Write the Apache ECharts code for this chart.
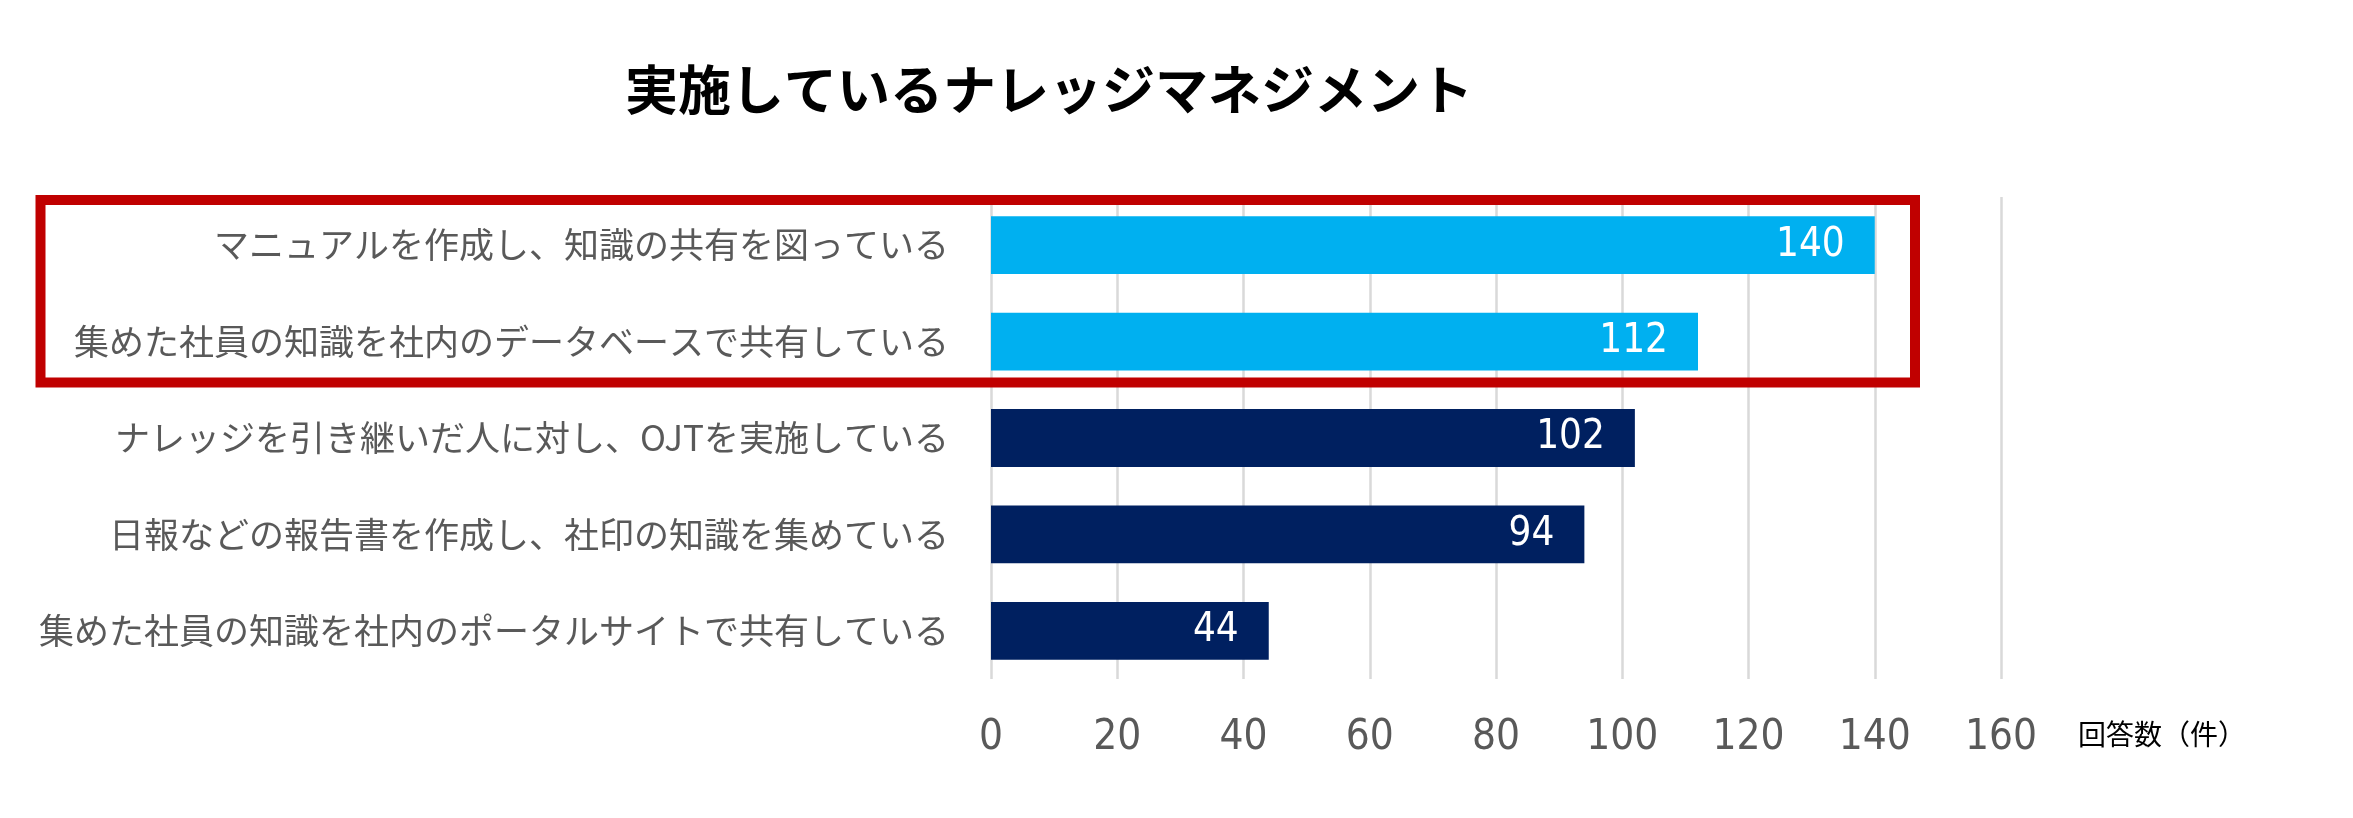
<!DOCTYPE html>
<html>
<head>
<meta charset="utf-8">
<script src="https://cdn.jsdelivr.net/npm/echarts@6/dist/echarts.min.js"></script>
<style>
html,body{margin:0;padding:0;background:#fff;}
#chart{width:2353px;height:818px;}
</style>
</head>
<body>
<div id="chart"></div>
<script>
// ---- data ----
const titleText = '実施しているナレッジマネジメント';
const categories = [
  'マニュアルを作成し、知識の共有を図っている',
  '集めた社員の知識を社内のデータベースで共有している',
  'ナレッジを引き継いだ人に対し、OJTを実施している',
  '日報などの報告書を作成し、社印の知識を集めている',
  '集めた社員の知識を社内のポータルサイトで共有している'
];
const values = [140, 112, 102, 94, 44];
const highlightFlags = [true, true, false, false, false];
const axisName = '回答数（件）';

// ---- styles ----
const LIGHT = '#00B0F0';
const DARK = '#002060';
const CJK = '"Noto Sans CJK JP", "Noto Sans CJK SC", sans-serif';
const NUM = '"DejaVu Sans Condensed", "Noto Sans", sans-serif';

const chart = echarts.init(document.getElementById('chart'), null, {renderer: 'canvas'});

const barData = values.map((v, i) => ({
  value: v,
  itemStyle: {color: highlightFlags[i] ? LIGHT : DARK}
}));

chart.setOption({
  backgroundColor: '#ffffff',
  animation: false,
  title: {
    text: titleText,
    left: 1049,
    top: 63,
    padding: 0,
    textAlign: 'center',
    textStyle: {
      fontFamily: CJK,
      fontSize: 53,
      fontWeight: 'bold',
      color: '#000000'
    }
  },
  grid: {
    left: 991,
    right: 352,
    top: 197,
    bottom: 139,
    containLabel: false,
    outerBoundsMode: 'none'
  },
  xAxis: {
    type: 'value',
    min: 0,
    max: 160,
    interval: 20,
    name: axisName,
    nameLocation: 'end',
    nameGap: 77,
    nameTextStyle: {
      fontFamily: CJK,
      fontSize: 28,
      color: '#000000',
      align: 'left',
      verticalAlign: 'top',
      padding: [41, 0, 0, 0]
    },
    axisLine: {show: false},
    axisTick: {show: false},
    axisLabel: {
      fontFamily: NUM,
      fontSize: 42,
      color: '#595959',
      margin: 38
    },
    splitLine: {
      show: true,
      lineStyle: {color: '#D9D9D9', width: 2.5}
    }
  },
  yAxis: {
    type: 'category',
    inverse: true,
    data: categories,
    axisLine: {show: false},
    axisTick: {show: false},
    axisLabel: {
      fontFamily: CJK,
      fontSize: 35,
      color: '#595959',
      margin: 42
    },
    splitLine: {show: false}
  },
  series: [{
    type: 'bar',
    data: barData,
    barCategoryGap: '40%',
    label: {
      show: true,
      position: 'insideRight',
      distance: 30,
      color: '#ffffff',
      fontFamily: NUM,
      fontSize: 40
    }
  }],
  graphic: [{
    type: 'rect',
    shape: {x: 40.5, y: 200, width: 1874.5, height: 182.5},
    style: {fill: 'none', stroke: '#C00000', lineWidth: 10},
    z: 100
  }]
});
</script>
</body>
</html>
